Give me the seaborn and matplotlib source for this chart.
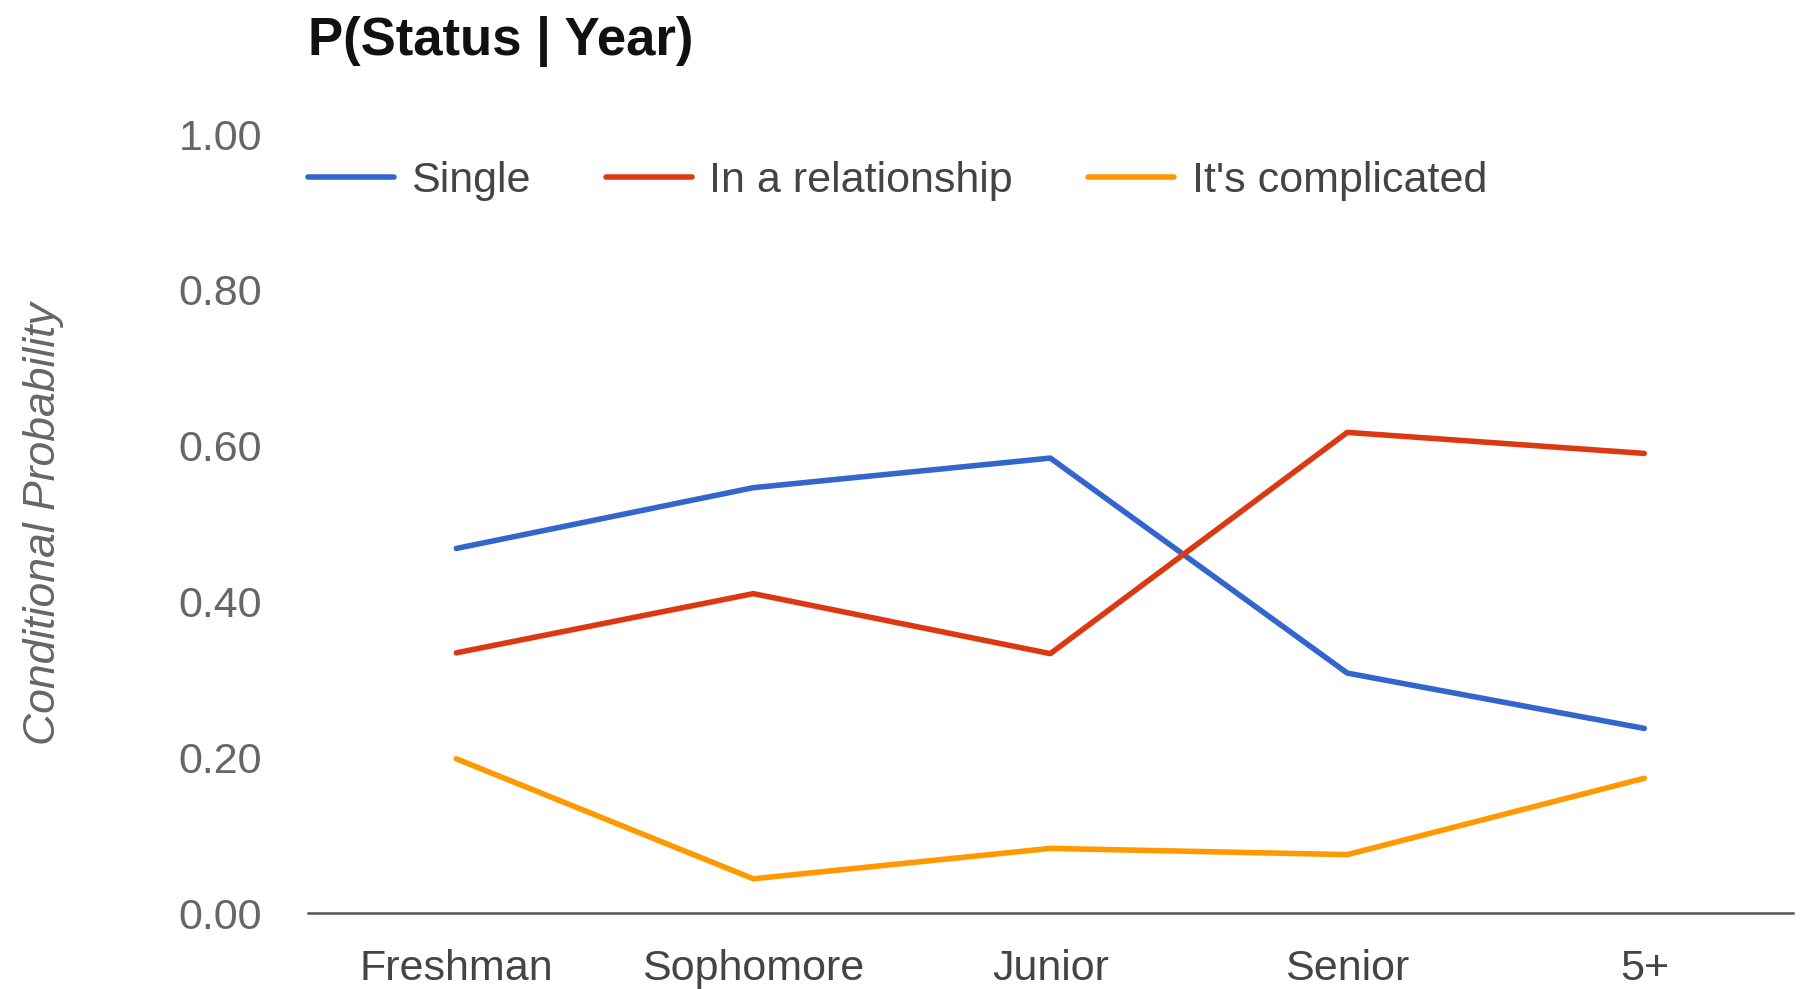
import matplotlib
matplotlib.use("Agg")
import matplotlib.pyplot as plt
import seaborn as sns
import pandas as pd

years = ["Freshman", "Sophomore", "Junior", "Senior", "5+"]
single = [0.468, 0.546, 0.584, 0.308, 0.237]
relationship = [0.334, 0.410, 0.333, 0.617, 0.590]
complicated = [0.198, 0.044, 0.083, 0.075, 0.173]
statuses = ["Single", "In a relationship", "It's complicated"]
colors = ["#3366CC", "#DC3912", "#FF9900"]
yticks = [0.0, 0.2, 0.4, 0.6, 0.8, 1.0]

df = pd.DataFrame({
    "Year": years * 3,
    "Status": [statuses[0]] * 5 + [statuses[1]] * 5 + [statuses[2]] * 5,
    "Prob": single + relationship + complicated,
})

sns.set_theme(style="white")
plt.rcParams["font.family"] = ["Liberation Sans", "DejaVu Sans"]

fig = plt.figure(figsize=(18, 9.89), dpi=100)
ax = fig.add_axes([0.171, 0.0768, 0.825, 0.7877])

sns.lineplot(data=df, x="Year", y="Prob", hue="Status", palette=colors,
             hue_order=statuses, sort=False, linewidth=4.0, ax=ax, legend=True)

ax.set_xlim(-0.5, 4.5)
ax.set_ylim(0, 1.0)
ax.set_yticks(yticks)
ax.set_yticklabels([f"{v:.2f}" for v in yticks])
ax.tick_params(axis="y", length=0, pad=33, labelsize=31, labelcolor="#666666")
ax.tick_params(axis="x", length=0, pad=26, labelsize=31, labelcolor="#444444")
for s in ["top", "right", "left"]:
    ax.spines[s].set_visible(False)
ax.spines["bottom"].set_color("#555555")
ax.spines["bottom"].set_linewidth(1.8)
ax.set_xlabel("")
ax.set_ylabel("Conditional Probability", fontsize=32, style="italic",
              color="#666666", labelpad=0)
ax.yaxis.set_label_coords(-0.164, 0.5)

handles, labels = ax.get_legend_handles_labels()
for h in handles:
    h.set_linewidth(4.0)
ax.legend(handles, labels, ncol=3, frameon=False, fontsize=31,
          labelcolor="#444444", loc="center left",
          bbox_to_anchor=(0.0, 0.94), borderaxespad=0, borderpad=0,
          handlelength=2.0, handletextpad=0.4, columnspacing=1.75)

fig.text(0.171, 0.958, "P(Status | Year)", fontsize=38, fontweight="bold",
         color="#111111", ha="left", va="center")

fig.savefig("out.png", dpi=100)
